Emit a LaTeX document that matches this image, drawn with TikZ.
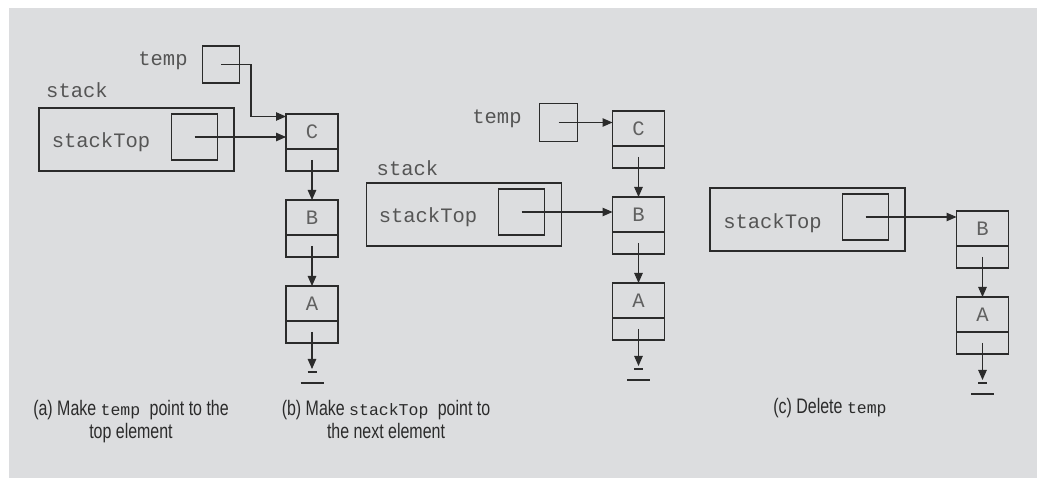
\documentclass[tikz,border=0pt]{standalone}
\usepackage{fontspec}
\setmainfont{Liberation Sans}[FakeStretch=0.76]
\setmonofont{Liberation Mono}
\usetikzlibrary{arrows.meta,positioning,calc}
\definecolor{panelgray}{HTML}{DCDDDF}
\definecolor{ink}{HTML}{2B2B2B}
\newcommand{\codefont}{\fontsize{20.5}{22}\selectfont\ttfamily}
\newcommand{\capfont}{\fontsize{21}{23}\selectfont}
\newcommand{\capcode}[1]{{\fontsize{16.5}{16}\selectfont\ttfamily #1}}

\begin{document}
\begin{tikzpicture}[x=1pt,y=-1pt,
    datacell/.style={draw=ink,line width=1.2pt,inner sep=0pt,outer sep=0pt,
      minimum width=52pt,minimum height=35pt,font=\codefont,text=ink!75},
    linkcell/.style={draw=ink,line width=1.2pt,inner sep=0pt,outer sep=0pt,
      minimum width=52pt,minimum height=22pt},
    ptrbox/.style={draw=ink,line width=1.2pt,inner sep=0pt,outer sep=0pt,
      minimum width=#1,minimum height=#1},
    stackbox/.style={draw=ink,line width=1.2pt,inner sep=0pt,outer sep=0pt,
      minimum width=195pt,minimum height=63pt},
    code/.style={font=\codefont,text=ink!80,inner sep=0pt},
    caption/.style={font=\capfont,text=ink,align=center,inner sep=0pt},
    ptr/.style={draw=ink,line width=1.1pt,-{Triangle[length=10pt,width=8.5pt]}},
    earth/.style={draw=ink,line width=1.1pt}]
  \useasboundingbox (0,0) rectangle (1037,478);
  \fill[panelgray] (9,8) rectangle (1037,478);

  % One list element: data cell over link cell; #1 name, #2 letter, #3 x, #4 top y.
  \newcommand{\elem}[4]{%
    \node[datacell] (#1) at (#3,#4+17.5) {#2};
    \node[linkcell,anchor=north] (#1l) at (#1.south) {};
  }
  % Null link of the last element.
  \newcommand{\nil}[2]{%
    \coordinate (#2) at ($(#1l.center)+(0,37)$);
    \draw[ptr] (#1l.center) -- (#2);
    \draw[earth] ([xshift=-4.5pt,yshift=-3pt]#2) -- ++(9,0);
    \draw[earth] ([xshift=-11.5pt,yshift=-14pt]#2) -- ++(23,0);
  }

  % (a) temp points to the top element.
  \elem{aC}{C}{312}{114}
  \elem{aB}{B}{312}{200}
  \elem{aA}{A}{312}{286}
  \draw[ptr] (aCl.center) -- (aB.north);
  \draw[ptr] (aBl.center) -- (aA.north);
  \nil{aA}{aG}
  \node[code] (aTemp) at (163,61) {temp};
  \node[ptrbox=37pt] (aTbox) at (221,64.5) {};
  \node[code] (aStack) at (77,90) {stack};
  \node[stackbox] (aSbox) at (136.5,139.5) {};
  \node[code] (aTopLab) at (101,142) {stackTop};
  \node[ptrbox=46pt] (aTop) at (194.5,137) {};
  \draw[ptr] (aTbox.center) -- ++(30,0) |- ([yshift=-2.5pt]aC.north west);
  \draw[ptr] (aTop.center) -- (aTop.center -| aC.west);
  \node[caption] (aCap) at (131,421.5)
    {(a) Make \capcode{temp}\hspace{5pt} point to the\\top element};

  % (b) stackTop points to the next element.
  \elem{bC}{C}{638.5}{111}
  \elem{bB}{B}{638.5}{197}
  \elem{bA}{A}{638.5}{283}
  \draw[ptr] (bCl.center) -- (bB.north);
  \draw[ptr] (bBl.center) -- (bA.north);
  \nil{bA}{bG}
  \node[code] (bTemp) at (497,119) {temp};
  \node[ptrbox=38pt] (bTbox) at (558.5,122.5) {};
  \node[code] (bStack) at (407.5,168) {stack};
  \node[stackbox] (bSbox) at (464,214.5) {};
  \node[code] (bTopLab) at (428,217) {stackTop};
  \node[ptrbox=46pt] (bTop) at (521.5,212) {};
  \draw[ptr] (bTbox.center) -- (bTbox.center -| bC.west);
  \draw[ptr] (bTop.center) -- (bTop.center -| bB.west);
  \node[caption] (bCap) at (386,419)
    {(b) Make \capcode{stackTop}\hspace{5pt} point to\\the next element};

  % (c) temp deleted.
  \elem{cB}{B}{982.5}{211}
  \elem{cA}{A}{982.5}{297}
  \draw[ptr] (cBl.center) -- (cA.north);
  \nil{cA}{cG}
  \node[stackbox] (cSbox) at (807.5,219.5) {};
  \node[code] (cTopLab) at (772.5,223) {stackTop};
  \node[ptrbox=46pt] (cTop) at (865.5,217) {};
  \draw[ptr] (cTop.center) -- (cTop.center -| cB.west);
  \node[caption] (cCap) at (830,408) {(c) Delete \capcode{temp}};
\end{tikzpicture}
\end{document}
